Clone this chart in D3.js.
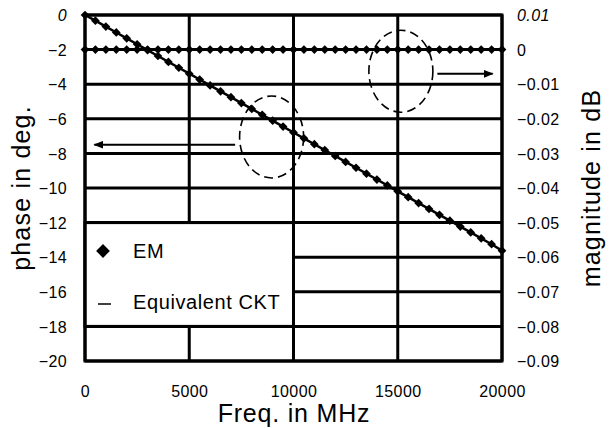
<!DOCTYPE html>
<html>
<head>
<meta charset="utf-8">
<script src="https://cdn.jsdelivr.net/npm/d3@7"></script>
<style>
  body { margin: 0; background: #fff; }
  svg text { font-family: "Liberation Sans", Arial, sans-serif; fill: #000; }
</style>
</head>
<body>
<svg id="chart" width="609" height="428"></svg>
<script>
// frequency points (MHz), 500 MHz step
const freq = [0, 500, 1000, 1500, 2000, 2500, 3000, 3500, 4000, 4500, 5000,
  5500, 6000, 6500, 7000, 7500, 8000, 8500, 9000, 9500, 10000,
  10500, 11000, 11500, 12000, 12500, 13000, 13500, 14000, 14500, 15000,
  15500, 16000, 16500, 17000, 17500, 18000, 18500, 19000, 19500, 20000];

// phase in deg. (left axis)
const phaseEM = [0, -0.33, -0.67, -1.01, -1.35, -1.69, -2.03, -2.37, -2.71, -3.05, -3.39,
  -3.73, -4.07, -4.41, -4.75, -5.09, -5.43, -5.77, -6.11, -6.45, -6.79,
  -7.13, -7.47, -7.81, -8.15, -8.49, -8.83, -9.17, -9.51, -9.85, -10.19,
  -10.53, -10.87, -11.21, -11.55, -11.89, -12.23, -12.57, -12.91, -13.25, -13.62];
const phaseCKT = phaseEM.slice();

// magnitude in dB (right axis)
const magEM = [0, 0, 0, 0, 0, 0, 0, 0, 0, 0, 0,
  0, 0, 0, 0, 0, 0, 0, 0, 0, 0,
  0, 0, 0, 0, 0, 0, 0, 0, 0, 0,
  0, 0, 0, 0, 0, 0, 0, 0, 0, 0];
const magCKT = magEM.slice();

const xTicks = [0, 5000, 10000, 15000, 20000];
const leftTicks = [0, -2, -4, -6, -8, -10, -12, -14, -16, -18, -20];
const rightTicks = [0.01, 0, -0.01, -0.02, -0.03, -0.04, -0.05, -0.06, -0.07, -0.08, -0.09];

const svg = d3.select('#chart');
const pLeft = 85, pRight = 502, pTop = 15, pBottom = 361;

const x = d3.scaleLinear().domain([0, 20000]).range([pLeft, pRight]);
const yL = d3.scaleLinear().domain([-20, 0]).range([pBottom, pTop]);
const yR = d3.scaleLinear().domain([-0.09, 0.01]).range([pBottom, pTop]);

const fmt = v => (v < 0 ? '\u2212' : '') + Math.abs(v);

// grid
const grid = svg.append('g').attr('stroke', '#000').attr('stroke-width', 3);
grid.selectAll('line.h').data(leftTicks).join('line')
  .attr('x1', pLeft).attr('x2', pRight)
  .attr('y1', d => yL(d)).attr('y2', d => yL(d));
grid.selectAll('line.v').data(xTicks).join('line')
  .attr('y1', pTop).attr('y2', pBottom)
  .attr('x1', d => x(d)).attr('x2', d => x(d));

// axes (labels only, lines are the grid)
const axB = svg.append('g').attr('transform', `translate(0,${pBottom + 25})`)
  .call(d3.axisBottom(x).tickValues(xTicks).tickSize(0).tickFormat(d => d));
const axL = svg.append('g').attr('transform', `translate(${pLeft - 18},0)`)
  .call(d3.axisLeft(yL).tickValues(leftTicks).tickSize(0).tickFormat(fmt));
const axR = svg.append('g').attr('transform', `translate(${pRight + 12},0)`)
  .call(d3.axisRight(yR).tickValues(rightTicks).tickSize(0).tickFormat(fmt));
[axB, axL, axR].forEach(a => {
  a.select('.domain').remove();
  a.selectAll('text').attr('font-size', 16).attr('letter-spacing', 0.4)
    .style('font-family', '"Liberation Sans", Arial, sans-serif');
});
axB.selectAll('text').attr('dy', '0.71em').attr('y', 0);
axL.selectAll('text').attr('x', 0).attr('dy', '0.35em');
axR.selectAll('text').attr('x', 3).attr('dy', '0.35em');
axL.selectAll('text').filter(d => d === 0).style('font-style', 'italic');
axR.selectAll('text').filter(d => d === 0.01).style('font-style', 'italic');

// legend box (covers grid inside)
svg.append('rect')
  .attr('x', x(0)).attr('y', yL(-12))
  .attr('width', x(10000) - x(0)).attr('height', yL(-18) - yL(-12))
  .attr('fill', '#fff').attr('stroke', '#000').attr('stroke-width', 3);

// frame
svg.append('rect').attr('x', pLeft).attr('y', pTop)
  .attr('width', pRight - pLeft).attr('height', pBottom - pTop)
  .attr('fill', 'none').attr('stroke', '#000').attr('stroke-width', 3);

// equivalent circuit lines
const linePhase = d3.line().x((d, i) => x(freq[i])).y(d => yL(d));
const lineMag = d3.line().x((d, i) => x(freq[i])).y(d => yR(d));
svg.append('path').attr('d', linePhase(phaseCKT))
  .attr('fill', 'none').attr('stroke', '#000').attr('stroke-width', 2.5);
svg.append('path').attr('d', lineMag(magCKT))
  .attr('fill', 'none').attr('stroke', '#000').attr('stroke-width', 2.5);

// EM diamonds
const diamond = d3.symbol().type(d3.symbolSquare).size(38);
svg.append('g').selectAll('path').data(phaseEM).join('path')
  .attr('d', diamond)
  .attr('transform', (d, i) => `translate(${x(freq[i])},${yL(d)}) rotate(45)`);
svg.append('g').selectAll('path').data(magEM).join('path')
  .attr('d', diamond)
  .attr('transform', (d, i) => `translate(${x(freq[i])},${yR(d)}) rotate(45)`);

// legend content
svg.append('path').attr('d', d3.symbol().type(d3.symbolSquare).size(95))
  .attr('transform', 'translate(103,251) rotate(45)');
svg.append('text').attr('x', 133).attr('y', 251).attr('dy', '0.35em')
  .attr('font-size', 20).attr('letter-spacing', 0.6).text('EM');
svg.append('line').attr('x1', 98).attr('x2', 111).attr('y1', 304).attr('y2', 304)
  .attr('stroke', '#000').attr('stroke-width', 1.5);
svg.append('text').attr('x', 133).attr('y', 302).attr('dy', '0.35em')
  .attr('font-size', 20).attr('letter-spacing', 0.6).text('Equivalent CKT');

// annotations: dashed ellipses and arrows
const ellipses = [{f: 8950, p: -7.05}, {f: 15150, p: -3.25}];
svg.append('g').selectAll('ellipse').data(ellipses).join('ellipse')
  .attr('cx', d => x(d.f)).attr('cy', d => yL(d.p))
  .attr('rx', 32).attr('ry', 41)
  .attr('fill', 'none').attr('stroke', '#000').attr('stroke-width', 1.6)
  .attr('stroke-dasharray', '9,5');

svg.append('defs').append('marker').attr('id', 'ah')
  .attr('viewBox', '0 0 10 8').attr('refX', 9).attr('refY', 4)
  .attr('markerWidth', 10).attr('markerHeight', 8)
  .attr('markerUnits', 'userSpaceOnUse').attr('orient', 'auto')
  .append('path').attr('d', 'M0,0L10,4L0,8Z').attr('fill', '#000');
const arrows = [{f1: 7200, f2: 450, p: -7.5}, {f1: 16900, f2: 19550, p: -3.4}];
svg.append('g').selectAll('line').data(arrows).join('line')
  .attr('x1', d => x(d.f1)).attr('x2', d => x(d.f2))
  .attr('y1', d => yL(d.p)).attr('y2', d => yL(d.p))
  .attr('stroke', '#000').attr('stroke-width', 2)
  .attr('marker-end', 'url(#ah)');

// axis titles
svg.append('text').attr('transform', `translate(30,${(pTop + pBottom) / 2}) rotate(-90)`)
  .attr('text-anchor', 'middle').attr('font-size', 25).attr('letter-spacing', 1.2)
  .text('phase in deg.');
svg.append('text').attr('transform', `translate(600,${(pTop + pBottom) / 2}) rotate(-90)`)
  .attr('text-anchor', 'middle').attr('font-size', 25).attr('letter-spacing', 1.2)
  .text('magnitude in dB');
svg.append('text').attr('x', 294).attr('y', 422)
  .attr('text-anchor', 'middle').attr('font-size', 25).attr('letter-spacing', 0.8)
  .text('Freq. in MHz');
</script>
</body>
</html>
